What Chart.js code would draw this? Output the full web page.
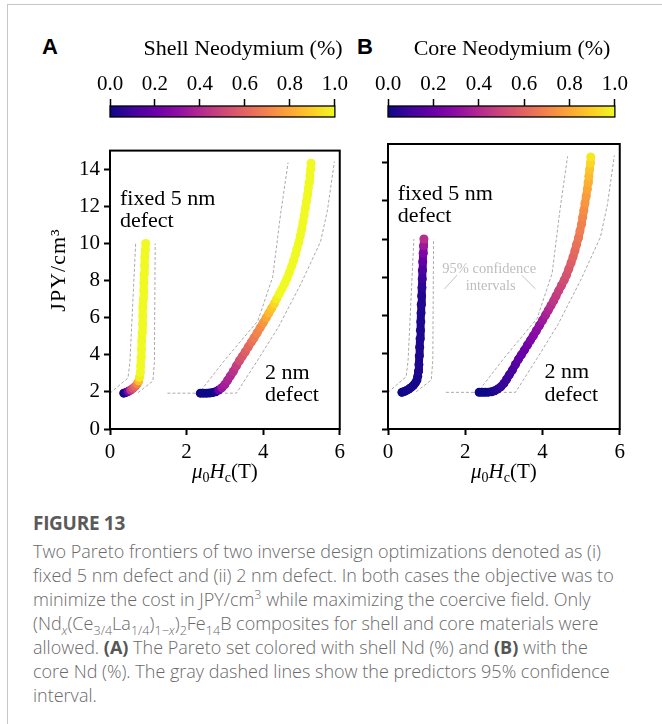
<!DOCTYPE html>
<html><head><meta charset="utf-8">
<script src="https://cdn.jsdelivr.net/npm/chart.js@4.4.1/dist/chart.umd.min.js"></script>
<style>
html,body{margin:0;padding:0;background:#fff;width:662px;height:724px;overflow:hidden;position:relative;}
#frame{position:absolute;left:7px;top:4px;width:720px;height:800px;border-left:1px solid #c6c6c6;border-top:1px solid #c6c6c6;}
canvas{position:absolute;}
.panel{position:absolute;font-family:'Liberation Sans',Arial,sans-serif;font-weight:bold;font-size:22px;line-height:22px;color:#000;}
#cap{position:absolute;left:33px;top:511px;font-family:'Open Sans',sans-serif;color:#6a6a6a;}
#cap .fig{font-size:19px;font-weight:700;color:#5a5a5a;height:28px;line-height:24px;letter-spacing:-0.3px;}
#cap .txt{font-size:18px;line-height:24px;font-weight:300;white-space:nowrap;}
#cap sub,#cap sup{line-height:0;font-size:70%;}
#cap b{font-weight:700;color:#555;}
</style></head>
<body>
<div id="frame"></div>
<div class="panel" style="left:42px;top:36px">A</div>
<div class="panel" style="left:357px;top:36px">B</div>
<canvas id="cbA" width="350" height="100" style="left:0;top:20px"></canvas>
<canvas id="cbB" width="280" height="100" style="left:350px;top:20px"></canvas>
<canvas id="pA" width="350" height="350" style="left:0;top:134px"></canvas>
<canvas id="pB" width="280" height="350" style="left:350px;top:134px"></canvas>
<div id="cap">
<div class="fig">FIGURE 13</div>
<div class="txt">Two Pareto frontiers of two inverse design optimizations denoted as (i)<br>fixed 5 nm defect and (ii) 2 nm defect. In both cases the objective was to<br>minimize the cost in JPY/cm<sup>3</sup> while maximizing the coercive field. Only<br>(Nd<sub><i>x</i></sub>(Ce<sub>3/4</sub>La<sub>1/4</sub>)<sub>1−<i>x</i></sub>)<sub>2</sub>Fe<sub>14</sub>B composites for shell and core materials were<br>allowed. <b>(A)</b> The Pareto set colored with shell Nd (%) and <b>(B)</b> with the<br>core Nd (%). The gray dashed lines show the predictors 95% confidence<br>interval.</div>
</div>
<script>
// ---------------- data ----------------
const xTicks = [0, 2, 4, 6];
const xTickLabels = ['0', '2', '4', '6'];
const yTicks = [0, 2, 4, 6, 8, 10, 12, 14];
const yTickLabels = ['0', '2', '4', '6', '8', '10', '12', '14'];
const cbTicks = [0, 0.2, 0.4, 0.6, 0.8, 1.0];
const cbTickLabels = ['0.0', '0.2', '0.4', '0.6', '0.8', '1.0'];

// fixed 5 nm defect Pareto set
const fixedX = [0.36,0.42,0.48,0.54,0.60,0.66,0.71,0.75,0.77,0.79,0.80,0.81,0.82,0.83,0.84,0.85,0.855,0.86,0.87,0.88,0.885,0.89,0.90,0.91,0.92,0.93];
const fixedY = [1.93,1.97,2.03,2.10,2.19,2.30,2.43,2.58,2.78,3.05,3.40,3.85,4.30,4.75,5.20,5.65,6.10,6.55,7.00,7.45,7.90,8.35,8.80,9.25,9.65,10.00];
const fixedShell = [0.0,0.05,0.25,0.45,0.55,0.62,0.70,0.85,0.97,1,1,1,1,1,1,1,1,1,1,1,1,1,1,1,1,1];
const fixedCore = [0.0,0.0,0.01,0.02,0.02,0.02,0.02,0.02,0.02,0.03,0.03,0.03,0.03,0.03,0.03,0.03,0.03,0.04,0.04,0.06,0.09,0.13,0.18,0.25,0.34,0.42];

// 2 nm defect Pareto set
const twoX = [2.36,2.44,2.52,2.60,2.68,2.76,2.84,2.92,3.00,3.07,3.14,3.22,3.30,3.38,3.45,3.53,3.61,3.69,3.76,3.84,3.92,4.00,4.08,4.15,4.22,4.29,4.35,4.42,4.49,4.56,4.62,4.68,4.74,4.79,4.84,4.88,4.93,4.97,5.01,5.04,5.07,5.10,5.13,5.16,5.18,5.20,5.22,5.24,5.25];
const twoY = [1.93,1.93,1.93,1.94,1.96,2.01,2.10,2.22,2.40,2.62,2.85,3.10,3.40,3.68,3.90,4.15,4.42,4.68,4.90,5.17,5.45,5.72,6.00,6.25,6.50,6.75,7.00,7.28,7.55,7.83,8.10,8.42,8.75,9.05,9.38,9.70,10.05,10.42,10.78,11.15,11.50,11.88,12.25,12.62,12.98,13.30,13.65,14.00,14.32];
const twoShell = [0,0,0,0,0,0.02,0.20,0.33,0.36,0.38,0.40,0.43,0.47,0.52,0.55,0.58,0.61,0.64,0.67,0.70,0.72,0.75,0.80,0.85,0.88,0.92,0.97,1,1,1,1,1,1,1,1,1,1,1,1,1,1,1,1,1,1,1,1,1,1];
const twoCore = [0,0,0,0,0.01,0.03,0.05,0.07,0.08,0.09,0.10,0.12,0.14,0.17,0.19,0.20,0.22,0.25,0.27,0.29,0.31,0.34,0.37,0.39,0.42,0.44,0.46,0.48,0.50,0.52,0.54,0.56,0.58,0.60,0.62,0.64,0.66,0.68,0.69,0.71,0.73,0.75,0.77,0.80,0.82,0.85,0.88,0.92,0.96];

// 95% confidence interval bounds
const fixedLoX = [0.00,0.47,0.52,0.67];
const fixedLoY = [1.93,2.75,3.60,10.0];
const fixedHiX = [0.73,1.12,1.16,1.18];
const fixedHiY = [1.96,2.58,3.60,10.0];
const twoLoX = [1.50,2.32,3.00,3.86,4.25,4.45,4.65];
const twoLoY = [1.93,1.93,3.72,5.82,8.20,11.5,14.35];
const twoHiX = [3.00,3.30,3.86,4.40,4.98,5.50,5.68,5.86];
const twoHiY = [1.93,1.93,3.72,5.50,7.80,10.1,11.8,14.4];

// ---------------- styling helpers ----------------
const SERIF = "'Liberation Serif', 'Times New Roman', serif";
Chart.defaults.font.family = SERIF;
Chart.defaults.color = '#000';
const PLASMA = ['#0d0887','#41049d','#6a00a8','#8f0da4','#b12a90','#cc4778','#e16462','#f2844b','#fca636','#fcce25','#f0f921'];
function hx(h){return [parseInt(h.slice(1,3),16),parseInt(h.slice(3,5),16),parseInt(h.slice(5,7),16)];}
function plasma(v){
  v = Math.max(0, Math.min(1, v));
  const f = v * 10, i = Math.min(9, Math.floor(f)), t = f - i;
  const a = hx(PLASMA[i]), b = hx(PLASMA[i+1]);
  return 'rgb(' + a.map((c,k)=>Math.round(c + (b[k]-c)*t)).join(',') + ')';
}
const pts = (xs, ys) => xs.map((x,i)=>({x:x, y:ys[i]}));

const boxPlugin = {
  id:'box',
  afterDraw(chart){
    const {ctx, chartArea:a} = chart;
    ctx.save(); ctx.strokeStyle = '#000'; ctx.lineWidth = 2;
    ctx.strokeRect(a.left, a.top, a.right-a.left, a.bottom-a.top);
    ctx.restore();
  }
};
const notesPlugin = {
  id:'notes',
  afterDatasetsDraw(chart, args, o){
    const ctx = chart.ctx, xs = chart.scales.x, ys = chart.scales.y;
    ctx.save();
    (o.lines||[]).forEach(l=>{
      ctx.strokeStyle = l.color; ctx.lineWidth = 1; ctx.beginPath();
      ctx.moveTo(xs.getPixelForValue(l.x0), ys.getPixelForValue(l.y0));
      ctx.lineTo(xs.getPixelForValue(l.x1), ys.getPixelForValue(l.y1));
      ctx.stroke();
    });
    (o.texts||[]).forEach(t=>{
      ctx.font = t.font; ctx.fillStyle = t.color; ctx.textAlign = t.align; ctx.textBaseline = 'alphabetic';
      ctx.fillText(t.text, xs.getPixelForValue(t.x), ys.getPixelForValue(t.y));
    });
    ctx.restore();
  }
};
const axisLabelPlugin = {
  id:'axlab',
  afterDraw(chart, args, o){
    const ctx = chart.ctx, a = chart.chartArea;
    const parts = [
      {t:'μ', f:'italic 21px '+SERIF, dy:0},
      {t:'0', f:'14px '+SERIF, dy:4},
      {t:'H', f:'italic 21px '+SERIF, dy:0},
      {t:'c', f:'14px '+SERIF, dy:4},
      {t:'(T)', f:'21px '+SERIF, dy:0}];
    ctx.save();
    let w = 0; parts.forEach(p=>{ctx.font=p.f; p.w=ctx.measureText(p.t).width; w+=p.w;});
    let x = (a.left+a.right)/2 - w/2;
    ctx.fillStyle = '#000'; ctx.textBaseline = 'alphabetic'; ctx.textAlign = 'left';
    parts.forEach(p=>{ctx.font=p.f; ctx.fillText(p.t, x, o.y+p.dy); x+=p.w;});
    if (o.ytitle) {
      ctx.translate(o.ytitleX, o.ytitleY);
      ctx.rotate(-Math.PI/2);
      ctx.font = '22px ' + SERIF;
      if ('letterSpacing' in ctx) ctx.letterSpacing = '1px';
      ctx.textAlign = 'center'; ctx.textBaseline = 'middle';
      ctx.fillText(o.ytitle, 0, 0);
    }
    ctx.restore();
  }
};
const cbPlugin = {
  id:'cbar',
  beforeDatasetsDraw(chart, args, o){
    const {ctx, chartArea:a} = chart;
    const g = ctx.createLinearGradient(a.left, 0, a.right, 0);
    PLASMA.forEach((c,i)=>g.addColorStop(i/10, c));
    ctx.save();
    ctx.fillStyle = g; ctx.fillRect(a.left, a.top, a.right-a.left, a.bottom-a.top);
    ctx.strokeStyle = '#000'; ctx.lineWidth = 1.3;
    ctx.strokeRect(a.left, a.top, a.right-a.left, a.bottom-a.top);
    ctx.font = '22px '+SERIF; ctx.fillStyle = '#000'; ctx.textAlign = 'center'; ctx.textBaseline = 'alphabetic';
    ctx.fillText(o.title, o.titleX, o.titleY);
    ctx.restore();
  }
};

function colorbar(id, title, titleX, padL, padR){
  new Chart(document.getElementById(id), {
    type:'scatter',
    data:{datasets:[{data:[]}]},
    options:{
      responsive:false, animation:false, events:[],
      layout:{padding:{left:padL, right:padR, top:0, bottom:3}},
      plugins:{legend:{display:false}, tooltip:{enabled:false}, cbar:{title:title, titleX:titleX, titleY:35}},
      scales:{
        x:{type:'linear', position:'top', min:0, max:1,
           afterBuildTicks:s=>{s.ticks = cbTicks.map(v=>({value:v}));},
           afterFit:s=>{s.height = 86;},
           ticks:{callback:(v,i)=>cbTickLabels[i], font:{size:21, family:SERIF}, color:'#000', padding:2, maxRotation:0, autoSkip:false},
           grid:{display:true, drawOnChartArea:false, tickLength:7, tickColor:'#000', tickWidth:1.5},
           border:{display:false}},
        y:{display:false, min:0, max:1}
      }
    },
    plugins:[cbPlugin]
  });
}

function panel(id, fixedVals, twoVals, opts){
  const datasets = [
    {data:pts(fixedX, fixedY), order:0, showLine:true, borderWidth:8, borderCapStyle:'round', borderJoinStyle:'round',
     segment:{borderColor:c=>plasma(fixedVals[c.p0DataIndex])}, borderColor:plasma(fixedVals[0]),
     pointRadius:4.5, pointHoverRadius:4.5, pointBorderWidth:0, pointBackgroundColor:fixedVals.map(plasma)},
    {data:pts(twoX, twoY), order:0, showLine:true, borderWidth:8, borderCapStyle:'round', borderJoinStyle:'round',
     segment:{borderColor:c=>plasma(twoVals[c.p0DataIndex])}, borderColor:plasma(twoVals[0]),
     pointRadius:4.5, pointHoverRadius:4.5, pointBorderWidth:0, pointBackgroundColor:twoVals.map(plasma)}
  ];
  [[fixedLoX,fixedLoY],[fixedHiX,fixedHiY],[twoLoX,twoLoY],[twoHiX,twoHiY]].forEach(([xs,ys])=>{
    datasets.push({data:pts(xs,ys), order:1, showLine:true, borderColor:'#a9a9a9', borderWidth:1, borderDash:[3,2], pointRadius:0, pointHoverRadius:0});
  });
  new Chart(document.getElementById(id), {
    type:'scatter',
    data:{datasets:datasets},
    options:{
      responsive:false, animation:false, events:[],
      layout:{padding:{left:0, right:opts.padR, top:10, bottom:0}},
      plugins:{legend:{display:false}, tooltip:{enabled:false}, notes:{texts:opts.texts, lines:opts.lines||[]},
               axlab:{y:344, ytitle:opts.yLabels ? 'JPY/cm³' : '', ytitleX:59, ytitleY:136}},
      scales:{
        x:{type:'linear', min:0, max:6,
           afterBuildTicks:s=>{s.ticks = xTicks.map(v=>({value:v}));},
           afterFit:s=>{s.height = 55;},
           ticks:{callback:(v,i)=>xTickLabels[i], font:{size:21, family:SERIF}, color:'#000', padding:5, maxRotation:0, autoSkip:false},
           grid:{display:true, drawOnChartArea:false, tickLength:6, tickColor:'#000', tickWidth:2},
           border:{display:false}},
        y:{type:'linear', min:0, max:15,
           afterBuildTicks:s=>{s.ticks = yTicks.map(v=>({value:v}));},
           afterFit:s=>{s.width = opts.yWidth;},
           ticks:{display:opts.yLabels, callback:(v,i)=>yTickLabels[i], font:{size:21, family:SERIF}, color:'#000', padding:4, autoSkip:false},
           grid:{display:true, drawOnChartArea:false, tickLength:6, tickColor:'#000', tickWidth:2},
           border:{display:false}}
      }
    },
    plugins:[boxPlugin, notesPlugin, axisLabelPlugin]
  });
}

const F21 = '22px ' + SERIF, F14 = '14.5px ' + SERIF;
const mainTexts = (fx) => [
  {text:'fixed 5 nm', x:fx, y:12.05, font:F21, color:'#000', align:'left'},
  {text:'defect', x:fx, y:10.88, font:F21, color:'#000', align:'left'},
  {text:'2 nm', x:4.05, y:2.70, font:F21, color:'#000', align:'left'},
  {text:'defect', x:4.05, y:1.49, font:F21, color:'#000', align:'left'}
];

colorbar('cbA', 'Shell Neodymium (%)', 243, 110, 6);
colorbar('cbB', 'Core Neodymium (%)', 162, 38, 8);
panel('pA', fixedShell, twoShell, {padR:6, yWidth:110, yLabels:true, texts:mainTexts(0.26)});
panel('pB', fixedCore, twoCore, {padR:8, yWidth:38, yLabels:false,
  texts:mainTexts(0.25).concat([
    {text:'95% confidence', x:2.62, y:8.22, font:F14, color:'#bdbdbd', align:'center'},
    {text:'intervals', x:2.66, y:7.31, font:F14, color:'#bdbdbd', align:'center'}]),
  lines:[{x0:1.46, y0:7.37, x1:1.79, y1:8.1, color:'#c4c4c4'}, {x0:3.46, y0:8.1, x1:3.82, y1:7.37, color:'#c4c4c4'}]});
</script>
</body></html>
